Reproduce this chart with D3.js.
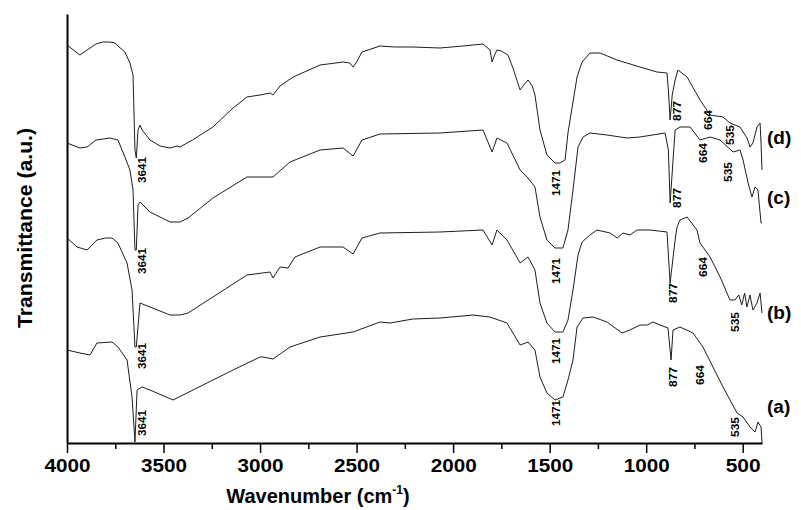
<!DOCTYPE html>
<html>
<head>
<meta charset="utf-8">
<script src="https://cdn.jsdelivr.net/npm/d3@7/dist/d3.min.js"></script>
<style>
	body { margin: 0; background: #fff; }
	text { font-family: "Liberation Sans", Arial, sans-serif; }
</style>
</head>
<body>
<div id="chart"></div>
<script>
// FTIR spectra, [wavenumber (cm-1), transmittance (a.u., stacked offset)]
const specA = [
	[4000, 93], [3933, 90], [3881, 88], [3845, 100], [3767, 101], [3736, 96], [3689, 83], [3663, 46],
	[3648, 1], [3637, 53], [3611, 56], [3570, 53], [3451, 43], [3275, 60], [3140, 73], [3000, 86],
	[2985, 86], [2933, 84], [2845, 96], [2689, 106], [2518, 111], [2379, 121], [2327, 120], [2208, 124],
	[2068, 125], [1897, 128], [1809, 126], [1721, 120], [1653, 98], [1612, 101], [1576, 93], [1550, 66],
	[1514, 50], [1472, 43], [1431, 46], [1405, 63], [1379, 83], [1358, 116], [1327, 125], [1275, 126],
	[1203, 121], [1125, 110], [1084, 113], [1032, 118], [995, 118], [964, 121], [928, 118], [887, 115],
	[871, 83], [861, 113], [825, 116], [757, 110], [706, 96], [654, 76], [602, 56], [529, 30],
	[498, 26], [462, 16], [436, 11], [421, 21], [405, 16], [400, 0]
];
const specB = [
	[4000, 205], [3948, 196], [3896, 193], [3845, 203], [3800, 205], [3767, 205], [3736, 200], [3689, 180],
	[3663, 153], [3648, 96], [3641, 96], [3622, 140], [3570, 136], [3466, 128], [3415, 128], [3373, 130],
	[3244, 146], [3068, 168], [2948, 171], [2933, 165], [2897, 176], [2855, 175], [2819, 186], [2689, 196],
	[2570, 196], [2518, 189], [2472, 205], [2379, 210], [2068, 211], [1845, 213], [1798, 198], [1773, 213],
	[1721, 203], [1653, 180], [1612, 186], [1576, 173], [1550, 140], [1514, 120], [1472, 111], [1431, 111],
	[1405, 123], [1379, 153], [1353, 188], [1332, 201], [1291, 208], [1255, 213], [1187, 210], [1150, 205],
	[1120, 210], [1084, 208], [1047, 213], [980, 213], [892, 211], [876, 160], [850, 203], [840, 216],
	[825, 223], [788, 226], [737, 213], [721, 200], [669, 186], [617, 166], [566, 143], [540, 143],
	[520, 148], [505, 138], [490, 150], [478, 136], [462, 148], [447, 133], [426, 140], [410, 150], [400, 130]
];
const specC = [
	[4000, 300], [3933, 295], [3896, 296], [3850, 303], [3777, 305], [3736, 303], [3700, 286], [3674, 273],
	[3658, 253], [3648, 193], [3641, 193], [3632, 238], [3622, 241], [3570, 231], [3466, 221], [3415, 221],
	[3373, 225], [3244, 245], [3068, 266], [2933, 266], [2845, 281], [2689, 293], [2570, 295], [2518, 287],
	[2472, 303], [2379, 309], [2068, 310], [1845, 313], [1798, 291], [1773, 305], [1721, 300], [1653, 273],
	[1612, 265], [1576, 256], [1550, 226], [1514, 203], [1472, 195], [1431, 195], [1405, 213], [1379, 253],
	[1353, 296], [1327, 306], [1291, 310], [1203, 308], [1099, 305], [1032, 306], [902, 310], [885, 293],
	[876, 240], [850, 313], [825, 316], [773, 316], [721, 303], [669, 306], [617, 303], [550, 291],
	[514, 293], [498, 283], [472, 260], [452, 246], [436, 256], [421, 253], [405, 220], [400, 220]
];
const specD = [
	[4000, 398], [3933, 388], [3896, 393], [3850, 399], [3814, 401], [3777, 401], [3751, 400], [3736, 397],
	[3700, 391], [3674, 380], [3658, 368], [3648, 293], [3641, 285], [3632, 313], [3622, 318], [3611, 313],
	[3570, 303], [3518, 297], [3466, 295], [3430, 297], [3415, 296], [3350, 303], [3244, 316], [3140, 335],
	[3068, 346], [3000, 348], [2948, 350], [2933, 348], [2897, 357], [2829, 366], [2689, 378], [2570, 381],
	[2535, 380], [2518, 376], [2500, 381], [2472, 391], [2379, 397], [2300, 396], [2208, 396], [2068, 395],
	[1950, 397], [1845, 399], [1809, 393], [1798, 381], [1785, 388], [1773, 393], [1750, 392], [1716, 388],
	[1690, 375], [1653, 353], [1630, 359], [1612, 363], [1590, 357], [1576, 348], [1550, 313], [1514, 288],
	[1472, 280], [1446, 280], [1420, 283], [1405, 310], [1358, 366], [1332, 381], [1291, 390], [1239, 390],
	[1151, 383], [1032, 376], [944, 371], [892, 370], [885, 353], [876, 323], [865, 348], [850, 363],
	[835, 373], [788, 366], [721, 343], [669, 328], [602, 326], [566, 320], [514, 316], [478, 305],
	[462, 296], [447, 300], [426, 316], [410, 320], [405, 300], [400, 273]
];

const spectra     = [specA, specB, specC, specD];
const curveNames  = ["(a)", "(b)", "(c)", "(d)"];
const curveLevels = [30, 124, 239, 299];

const majorTicks = [4000, 3500, 3000, 2500, 2000, 1500, 1000, 500];
const minorTicks = [3750, 3250, 2750, 2250, 1750, 1250, 750];

// peak labels: text, wavenumber where the label sits, a.u. level of its upper end
const peakText  = ["3641", "3641", "3641", "3641", "1471", "1471", "1471", "1471",
                   "877", "877", "877", "877", "664", "664", "664", "664", "535", "535", "535", "535"];
const peakWn    = [3611, 3611, 3611, 3611, 1467, 1467, 1467, 1467,
                   840, 840, 861, 861, 680, 706, 706, 721, 566, 576, 540, 540];
const peakLevel = [286, 195, 100, 33, 273, 185, 105, 43,
                   342, 255, 160, 76, 333, 300, 186, 78, 318, 281, 131, 26];

let canvasWidth  = 801;
let canvasHeight = 510;
let margin = { top: 14, right: 39, bottom: 67, left: 67 };
let width  = canvasWidth - margin.left - margin.right;
let height = canvasHeight - margin.top - margin.bottom;

let x = d3.scaleLinear().domain([4000, 400]).range([0, width]);
let y = d3.scaleLinear().domain([0, 429]).range([height, 0]);

let svg = d3.select("#chart").append("svg")
	.attr("width", canvasWidth)
	.attr("height", canvasHeight)
	.append("g")
		.attr("transform", "translate(" + margin.left + "," + margin.top + ")");

let line = d3.line().x((d) => x(d[0])).y((d) => y(d[1]));

svg.append("g").attr("class", "spectra")
	.selectAll("path").data(spectra).enter().append("path")
		.attr("d", line)
		.attr("fill", "none")
		.attr("stroke", "#1e1e1e")
		.attr("stroke-width", 1)
		.attr("stroke-linejoin", "round");

// axes
let xAxis = svg.append("g")
	.attr("transform", "translate(0," + height + ")")
	.call(d3.axisBottom(x).tickValues(majorTicks).tickSize(10).tickSizeOuter(0).tickFormat(d3.format("d")));

xAxis.select(".domain").attr("stroke-width", 2);
xAxis.selectAll(".tick line").attr("stroke-width", 1.5);
xAxis.selectAll(".tick text")
	.attr("y", 29).attr("dy", null)
	.attr("font-size", 18).attr("font-weight", "bold").attr("fill", "#000")
	.attr("textLength", (o) => (String(o).length === 4 ? 46 : 35))
	.attr("lengthAdjust", "spacingAndGlyphs");

svg.append("g")
	.attr("transform", "translate(0," + height + ")")
	.call(d3.axisBottom(x).tickValues(minorTicks).tickSize(6).tickFormat(""))
	.call((g) => g.select(".domain").remove())
	.selectAll(".tick line").attr("stroke-width", 1.5);

svg.append("g")
	.call(d3.axisLeft(y).tickValues([]).tickSizeOuter(0))
	.select(".domain").attr("stroke-width", 2);

// peak annotations
svg.append("g").attr("class", "peaks")
	.selectAll("text").data(peakText).enter().append("text")
		.attr("transform", (o, i) => "translate(" + x(peakWn[i]) + "," + y(peakLevel[i]) + ") rotate(-90)")
		.attr("text-anchor", "end")
		.attr("dominant-baseline", "central")
		.attr("font-size", 11)
		.attr("font-weight", "bold")
		.attr("textLength", (o) => (o.length === 4 ? 26 : 20))
		.attr("lengthAdjust", "spacingAndGlyphs")
		.text((o) => o);

// curve names
svg.append("g").attr("class", "names")
	.selectAll("text").data(curveNames).enter().append("text")
		.attr("x", x(400) + 5)
		.attr("y", (o, i) => y(curveLevels[i]))
		.attr("font-size", 19)
		.attr("font-weight", "bold")
		.text((o) => o);

// axis titles
let xTitle = svg.append("text")
	.attr("x", 251)
	.attr("y", 489)
	.attr("text-anchor", "middle")
	.attr("font-size", 20)
	.attr("font-weight", "bold");
xTitle.append("tspan").text("Wavenumber (cm");
xTitle.append("tspan").attr("font-size", 12).attr("dy", -9).text("-1");
xTitle.append("tspan").attr("dy", 9).text(")");

svg.append("text")
	.attr("transform", "translate(" + (25 - margin.left) + "," + (228 - margin.top) + ") rotate(-90)")
	.attr("text-anchor", "middle")
	.attr("dominant-baseline", "central")
	.attr("font-size", 20)
	.attr("font-weight", "bold")
	.attr("textLength", 200)
	.attr("lengthAdjust", "spacingAndGlyphs")
	.text("Transmittance (a.u.)");
</script>
</body>
</html>
